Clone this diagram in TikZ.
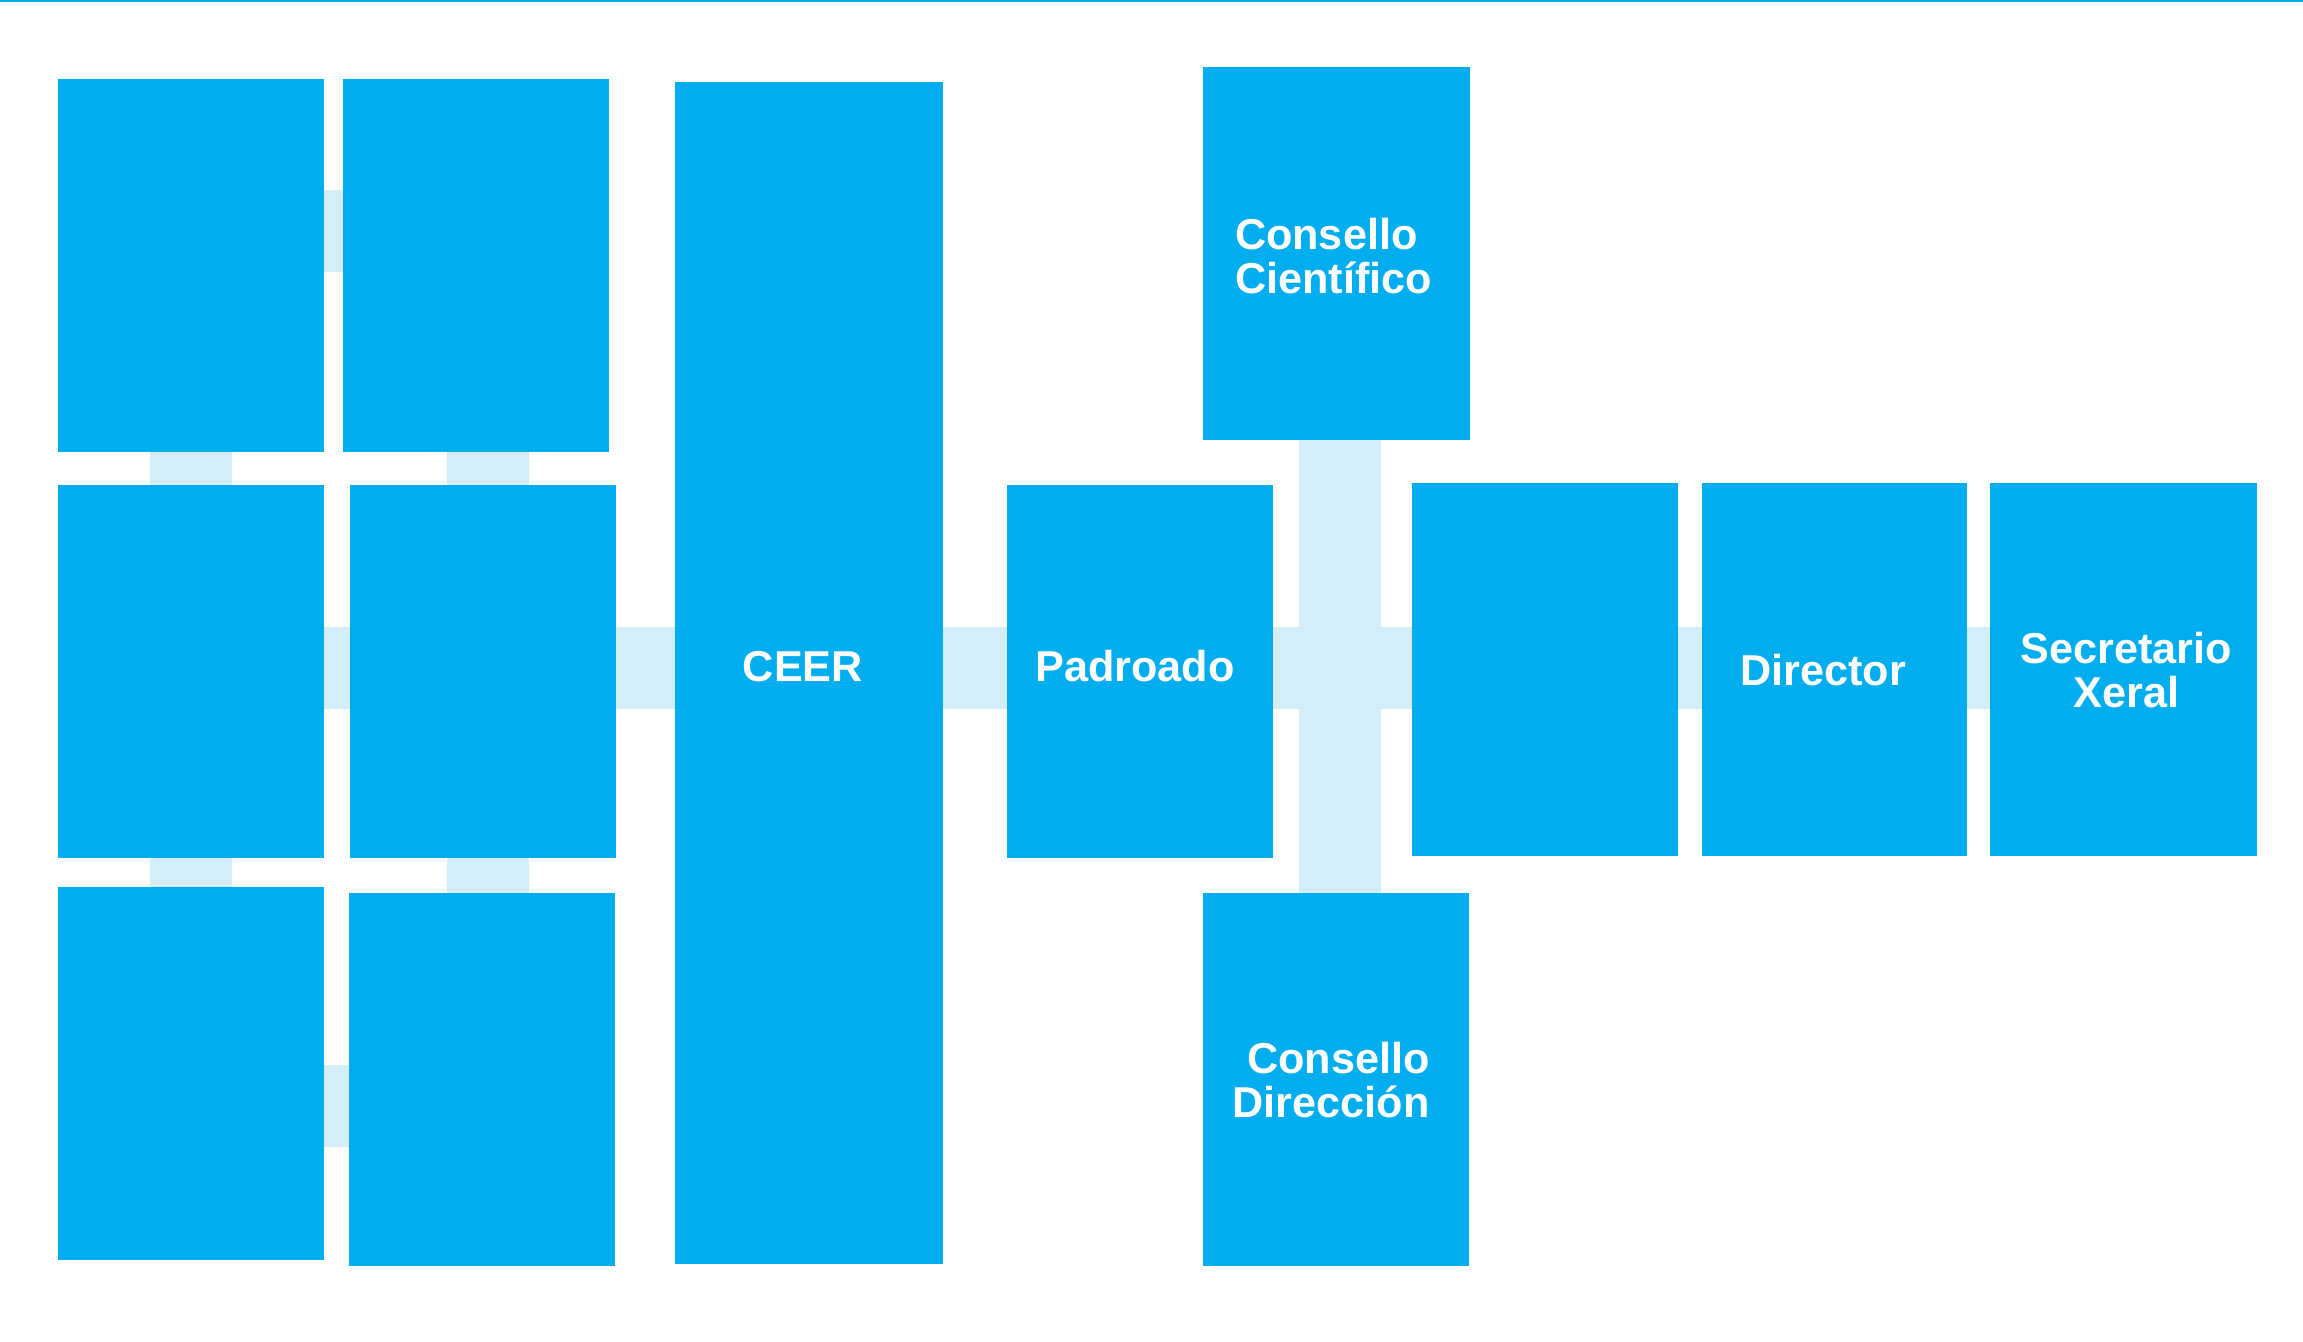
\documentclass[tikz,border=0pt]{standalone}
\usepackage{fontspec}
\setmainfont{Liberation Sans}
\usetikzlibrary{backgrounds}
\definecolor{boxblue}{RGB}{0,174,239}
\definecolor{connlight}{RGB}{212,238,249}
\tikzset{
  x=0.25pt, y=-0.25pt,
  box/.style 2 args={rectangle, fill=boxblue, draw=none, inner sep=0pt, outer sep=0pt,
    minimum width=#1*0.25pt, minimum height=#2*0.25pt},
  lbl/.style={font=\fontsize{10.8}{11}\selectfont\bfseries, text=white, inner sep=0pt, outer sep=0pt},
  conn/.style={draw=connlight, line width=20.5pt, line cap=butt},
}
\begin{document}
\begin{tikzpicture}
\useasboundingbox (0,0) rectangle (2303,1341);
\fill[boxblue] (0,0) rectangle (2303,2);
% left grid
\node[box={266}{373}] (A) at (191,265.5) {};
\node[box={266}{373}] (B) at (476,265.5) {};
\node[box={266}{373}] (C) at (191,671.5) {};
\node[box={266.5}{373}] (D) at (483,671.5) {};
\node[box={266}{373}] (E) at (191,1073.5) {};
\node[box={266}{373}] (F) at (482,1079.5) {};
% central
\node[box={268}{1181.5}] (ceer) at (809,672.75) {};
\node[box={266.5}{372.6}] (padroado) at (1139.75,671.3) {};
\node[box={267}{373}] (cc) at (1336.5,253.5) {};
\node[box={266}{372.5}] (cd) at (1336,1079.25) {};
\node[box={266.5}{373}] (b4) at (1544.75,669.5) {};
\node[box={265.5}{373}] (director) at (1834.25,669.5) {};
\node[box={266.5}{373}] (secretario) at (2123.25,669.5) {};
% labels (multi-line: base anchor is the last line's baseline)
\node[lbl, anchor=base] (tceer) at (803,681.7) {CEER};
\node[lbl, anchor=base] (tpadroado) at (1135,681.7) {Padroado};
\node[lbl, anchor=base] (tdirector) at (1823,685.7) {Director};
\node[lbl, anchor=base, align=center] (tsecretario) at (2126.3,707.3) {Secretario\\Xeral};
\node[lbl, anchor=base west, align=left] (tcc) at (1235,293.3) {Consello\\Científico};
\node[lbl, anchor=base east, align=right] (tcd) at (1429.5,1117.5) {Consello\\Dirección};
% connectors
\coordinate (hy) at (0,668);
\begin{pgfonlayer}{background}
\draw[conn] ([yshift=8.75pt]A.east) -- ([yshift=8.75pt]A.east -| B.west);
\draw[conn] ([yshift=-8.125pt]E.east) -- ([yshift=-8.125pt]E.east -| F.west);
\draw[conn] (A.south) -- (C.north);
\draw[conn] (C.south) -- (E.north);
\draw[conn] ([xshift=1.25pt]D.north) -- ([xshift=1.25pt]D.north |- B.south);
\draw[conn] ([xshift=1.25pt]D.south) -- ([xshift=1.25pt]D.south |- F.north);
\draw[conn] (C.east |- hy) -- (D.west |- hy);
\draw[conn] (D.east |- hy) -- (ceer.west |- hy);
\draw[conn] (ceer.east |- hy) -- (padroado.west |- hy);
\draw[conn] (padroado.east |- hy) -- (b4.west |- hy);
\draw[conn] (b4.east |- hy) -- (director.west |- hy);
\draw[conn] (director.east |- hy) -- (secretario.west |- hy);
\draw[conn] ([xshift=0.875pt]cc.south) -- ([xshift=0.875pt]cc.south |- cd.north);
\end{pgfonlayer}
\end{tikzpicture}
\end{document}
